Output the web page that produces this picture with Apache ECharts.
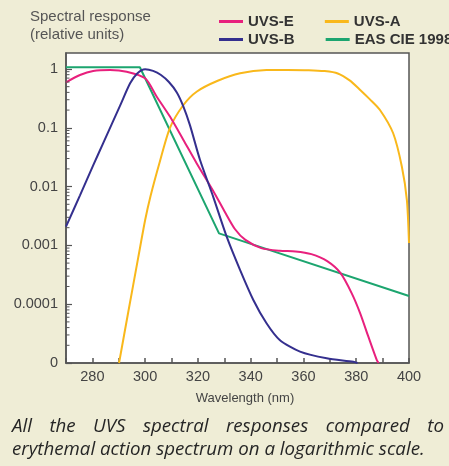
<!DOCTYPE html>
<html lang="en">
<head>
    <meta charset="UTF-8">
    <title>UVS spectral responses</title>
    <script src="https://cdn.jsdelivr.net/npm/echarts@6/dist/echarts.min.js"></script>
    <style>
        body { margin: 0; background: #efedd6; }
        #chart { width: 449px; height: 466px; }
    </style>
</head>
<body>
    <div id="chart"></div>
    <script>
        // wavelength (nm) / relative response
        const uvsEWave = [270, 275.3, 280.3, 286.7, 293, 300, 304.4, 309.4, 314.5, 319.5, 325.8, 330, 334, 338, 344, 351, 357, 363, 369, 374, 378.3, 381.5, 384.6, 387.8, 388.5];
        const uvsEValue = [0.594, 0.79, 0.925, 0.962, 0.9, 0.695, 0.338, 0.155, 0.062, 0.025, 0.0084, 0.00385, 0.0019, 0.00124, 0.0009, 0.00081, 0.00079, 0.00071, 0.00054, 0.00034, 0.000153, 0.00007, 0.000028, 0.0000112, 0.00001];

        const uvsBWave = [270, 275.3, 280.3, 284.1, 290.5, 294.3, 297, 300, 303, 306, 309, 312, 314.5, 317, 320.8, 325.8, 330.9, 336, 341, 346, 351, 358.7, 368.8, 378.9, 380.5];
        const uvsBValue = [0.00208, 0.0071, 0.0229, 0.055, 0.238, 0.571, 0.84, 0.99, 0.93, 0.79, 0.6, 0.4, 0.23, 0.11, 0.0283, 0.0067, 0.00141, 0.00038, 0.000118, 0.0000473, 0.0000246, 0.0000156, 0.000012, 0.0000105, 0.00001];

        const uvsAWave = [290.1, 293.6, 297.4, 300, 302, 305.5, 309.4, 314.5, 319.5, 327.5, 336, 346, 354, 362, 368, 373, 377.5, 381.5, 385, 389, 394, 397.3, 399.2, 400];
        const uvsAValue = [0.00001, 0.0000736, 0.00063, 0.0027, 0.0068, 0.026, 0.1, 0.244, 0.411, 0.63, 0.845, 0.96, 0.965, 0.955, 0.92, 0.84, 0.64, 0.44, 0.31, 0.201, 0.0807, 0.0218, 0.0059, 0.0011];

        const cieWave = [270, 298, 328, 400];
        const cieValue = [1.07, 1.07, 0.0016, 0.000138];

        const xTickStep = 10;
        const decadeMantissas = [2, 3, 4, 5, 6, 7, 8, 9];
        const decadeExponents = [-5, -4, -3, -2, -1];

        const xMin = 270, xMax = 400;
        const yMin = 0.00001, yMax = 1.87;

        const colors = {
            'UVS-E': '#e8207d',
            'UVS-A': '#f9b81b',
            'UVS-B': '#342f8e',
            'EAS CIE 1998': '#1ca56f'
        };

        const pairs = (xs, ys) => xs.map((x, i) => [x, ys[i]]);

        // log minor ticks on the left axis (2..9 x 10^k)
        const minorTicks = [];
        decadeExponents.forEach(e => decadeMantissas.forEach(m => minorTicks.push([xMin, m * Math.pow(10, e)])));

        function yLabel(v) {
            const e = Math.round(Math.log10(v));
            if (Math.abs(Math.log10(v) - e) > 0.01) return '';
            if (e <= -5) return '0';
            if (e >= 0) return '1';
            return '0.' + '0'.repeat(-e - 1) + '1';
        }

        // caption: size the font to the second line, justify the first one
        const captionLine1 = ['All', 'the', 'UVS', 'spectral', 'responses', 'compared', 'to'];
        const captionLine2 = 'erythemal action spectrum on a logarithmic scale.';
        const lineLeft = 12, lineRight = 444, line2Right = 425;
        const ctx = document.createElement('canvas').getContext('2d');
        ctx.font = 'italic 16px "Open Sans"';
        const capSize = 16 * (line2Right - lineLeft) / ctx.measureText(captionLine2).width;
        const captionFont = 'italic ' + capSize.toFixed(2) + 'px "Open Sans"';
        ctx.font = captionFont;
        const wordW = captionLine1.map(w => ctx.measureText(w).width);
        const gap = (lineRight - lineLeft - wordW.reduce((a, b) => a + b, 0)) / (captionLine1.length - 1);
        const captionItems = [];
        let cx = lineLeft;
        captionLine1.forEach((w, i) => {
            captionItems.push({ type: 'text', x: cx, y: 427, style: { text: w, font: captionFont, fill: '#262626', verticalAlign: 'middle' } });
            cx += wordW[i] + gap;
        });
        captionItems.push({ type: 'text', x: lineLeft, y: 450, style: { text: captionLine2, font: captionFont, fill: '#262626', verticalAlign: 'middle' } });

        const chart = echarts.init(document.getElementById('chart'));

        const lineSeries = (name, xs, ys, smooth) => ({
            name: name,
            type: 'line',
            data: pairs(xs, ys),
            smooth: smooth,
            showSymbol: false,
            symbol: 'none',
            lineStyle: { color: colors[name], width: 2 },
            itemStyle: { color: colors[name] }
        });

        const legendText = { fontFamily: 'Liberation Sans', fontSize: 15, fontWeight: 'bold', color: '#333' };

        chart.setOption({
            animation: false,
            backgroundColor: '#efedd6',
            grid: {
                left: 66, right: 40, top: 53, bottom: 103,
                show: true, backgroundColor: '#fff', borderColor: '#555', borderWidth: 1.5
            },
            legend: [
                {
                    data: ['UVS-E', 'UVS-A'].map(n => ({ name: n, icon: 'rect' })),
                    left: 219, top: 14, width: 320, padding: 0, itemWidth: 24, itemHeight: 3, itemGap: 31,
                    textStyle: legendText, selectedMode: false
                },
                {
                    data: ['UVS-B', 'EAS CIE 1998'].map(n => ({ name: n, icon: 'rect' })),
                    left: 219, top: 32, width: 320, padding: 0, itemWidth: 24, itemHeight: 3, itemGap: 31,
                    textStyle: legendText, selectedMode: false
                }
            ],
            xAxis: {
                type: 'value',
                min: xMin, max: xMax, interval: xTickStep,
                name: 'Wavelength (nm)',
                nameLocation: 'middle',
                nameGap: 29,
                nameTextStyle: { fontFamily: 'Liberation Sans', fontSize: 13, color: '#444', padding: [0, 0, 0, 15] },
                axisLine: { lineStyle: { color: '#555', width: 1.5 } },
                axisTick: { inside: true, length: 5, lineStyle: { color: '#555', width: 1.5 } },
                axisLabel: {
                    margin: 6,
                    fontFamily: 'Liberation Sans', fontSize: 14.5, color: '#444',
                    formatter: v => (v % 20 === 0 ? String(v) : '')
                },
                splitLine: { show: false }
            },
            yAxis: {
                type: 'log',
                logBase: 10,
                min: yMin, max: yMax,
                axisLine: { lineStyle: { color: '#555', width: 1.5 } },
                axisTick: { inside: true, length: 6, lineStyle: { color: '#555', width: 1.2 } },
                axisLabel: {
                    margin: 8, showMaxLabel: false,
                    fontFamily: 'Liberation Sans', fontSize: 14.5, color: '#444',
                    padding: [3, 0, 0, 0],
                    formatter: yLabel
                },
                splitLine: { show: false }
            },
            graphic: [
                { type: 'text', left: 30, top: 9, style: { text: 'Spectral response', font: '15px Liberation Sans', fill: '#555' } },
                { type: 'text', left: 30, top: 27, style: { text: '(relative units)', font: '15px Liberation Sans', fill: '#555' } }
            ].concat(captionItems),
            series: [
                lineSeries('EAS CIE 1998', cieWave, cieValue, false),
                lineSeries('UVS-A', uvsAWave, uvsAValue, 0.25),
                lineSeries('UVS-E', uvsEWave, uvsEValue, 0.25),
                lineSeries('UVS-B', uvsBWave, uvsBValue, 0.25),
                {
                    type: 'custom',
                    silent: true,
                    clip: false,
                    z: 5,
                    data: minorTicks,
                    renderItem: (params, api) => {
                        const p = api.coord([api.value(0), api.value(1)]);
                        return {
                            type: 'line',
                            shape: { x1: p[0], y1: p[1], x2: p[0] + 3.5, y2: p[1] },
                            style: { stroke: '#555', lineWidth: 1 }
                        };
                    }
                }
            ]
        });
        window.addEventListener('resize', () => chart.resize());
    </script>
</body>
</html>
